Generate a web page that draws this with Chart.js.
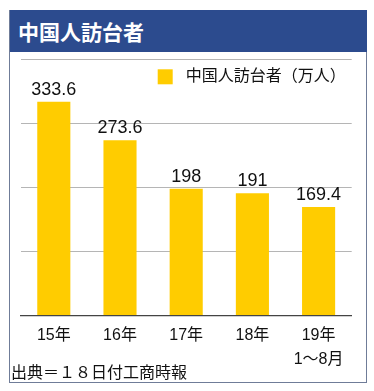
<!DOCTYPE html>
<html>
<head>
<meta charset="utf-8">
<script src="https://cdn.jsdelivr.net/npm/chart.js@4.4.0/dist/chart.umd.min.js"></script>
<style>
    body { margin: 0; background: #fff; }
    #frame {
        position: absolute; left: 9px; top: 10px; width: 358px; height: 373px;
        box-sizing: border-box; border: 1px solid #6f7c98;
    }
    #header {
        position: absolute; left: 10px; top: 10px; width: 357px; height: 42px;
        background: #2c4b8e; color: #fff;
        font: bold 21px "Noto Sans CJK JP", sans-serif; line-height: 42px;
        padding-left: 8px; box-sizing: border-box;
    }
    #wrap { position: absolute; left: 10px; top: 52px; width: 356px; height: 330px; }
    #source {
        position: absolute; left: 11px; top: 360px;
        font: 16px "Noto Sans CJK JP", sans-serif; color: #111; line-height: 22px;
    }
</style>
</head>
<body>
<div id="frame"></div>
<div id="header">中国人訪台者</div>
<div id="wrap"><canvas id="myChart"></canvas></div>
<div id="source">出典＝１８日付工商時報</div>
<script>
const categories = ['15年', '16年', '17年', '18年', ['19年', '1〜8月']];
const visitors = [333.6, 273.6, 198, 191, 169.4];
const seriesName = '中国人訪台者（万人）';
const yMax = 400;
const yStep = 100;

const fontFamily = '"Liberation Sans", "Noto Sans CJK JP", sans-serif';

// value labels above each bar
const barLabels = {
    id: 'barLabels',
    afterDatasetsDraw(chart) {
        const ctx = chart.ctx;
        const meta = chart.getDatasetMeta(0);
        ctx.save();
        ctx.font = '18px ' + fontFamily;
        ctx.fillStyle = '#111';
        ctx.textAlign = 'center';
        ctx.textBaseline = 'alphabetic';
        meta.data.forEach((bar, i) => {
            ctx.fillText(String(chart.data.datasets[0].data[i]), bar.x, bar.y - 7);
        });
        ctx.restore();
    }
};

// legend drawn inside the plot area, top right
const innerLegend = {
    id: 'innerLegend',
    afterDraw(chart) {
        const ctx = chart.ctx;
        const ds = chart.data.datasets[0];
        const area = chart.chartArea;
        const x = area.left + 137;
        const y = area.top + 10;
        ctx.save();
        ctx.fillStyle = ds.backgroundColor;
        ctx.fillRect(x, y, 15, 15);
        ctx.font = '16px ' + fontFamily;
        ctx.fillStyle = '#111';
        ctx.textBaseline = 'middle';
        ctx.fillText(ds.label, x + 28, y + 7.5);
        ctx.restore();
    }
};

let myChart = document.getElementById('myChart').getContext('2d');

new Chart(myChart, {
    type: 'bar',
    data: {
        labels: categories,
        datasets: [{
            label: seriesName,
            data: visitors,
            backgroundColor: '#ffcc00',
            barPercentage: 0.5,
            categoryPercentage: 1
        }]
    },
    options: {
        responsive: true,
        maintainAspectRatio: false,
        animation: false,
        layout: {
            padding: { left: 10.7, right: 14.3, top: 7.3, bottom: 2.5 }
        },
        plugins: {
            legend: { display: false },
            tooltip: { enabled: false }
        },
        scales: {
            x: {
                grid: { display: false, drawTicks: false },
                border: { color: '#444', width: 1.2 },
                ticks: {
                    color: '#111',
                    padding: 8,
                    font: { family: fontFamily, size: 16, lineHeight: 1.5 }
                }
            },
            y: {
                min: 0,
                max: yMax,
                ticks: { display: false, stepSize: yStep },
                grid: { color: '#b5b5b5', drawTicks: false },
                border: { display: false }
            }
        }
    },
    plugins: [barLabels, innerLegend]
});
</script>
</body>
</html>
